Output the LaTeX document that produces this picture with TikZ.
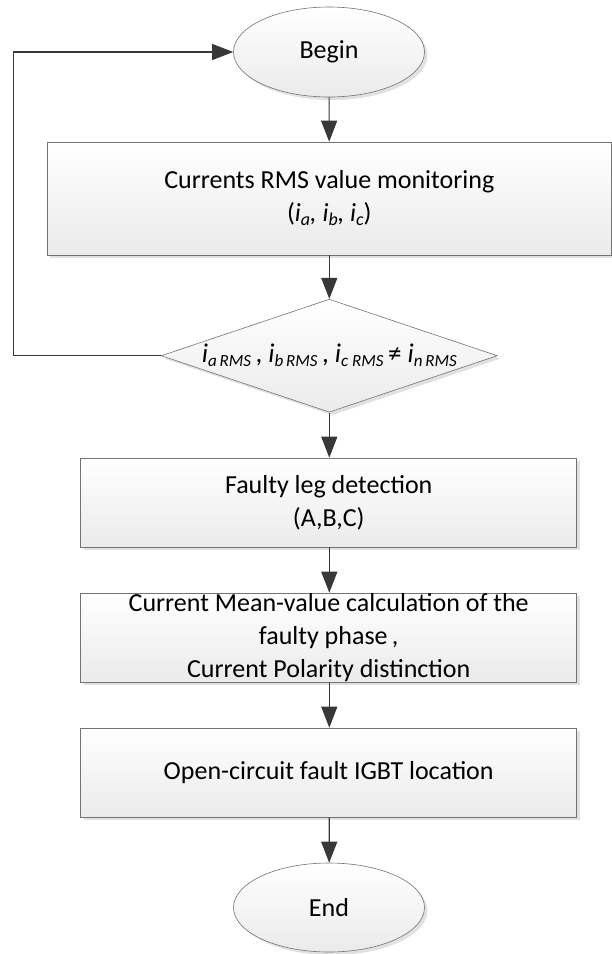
\documentclass[tikz,border=0pt]{standalone}
\usepackage{fontspec}
\setmainfont{Carlito}
\usetikzlibrary{shapes.geometric,shadows,arrows.meta}
\newcommand\subx[1]{\raisebox{-4pt}{\fontsize{17}{17}\selectfont\itshape #1}}
\newcommand\subb[1]{\raisebox{-4pt}{\fontsize{18}{18}\selectfont\itshape #1}}
\begin{document}
\begin{tikzpicture}[x=1pt,y=-1pt,
  base/.style={draw=gray!90!black, line width=0.6pt, top color=white, bottom color=gray!16,
     drop shadow={shadow xshift=3pt, shadow yshift=-3pt, fill=gray!30, opacity=0.8},
     font=\fontsize{26}{33}\selectfont, align=center, inner sep=0pt},
  term/.style={base, ellipse, minimum width=191pt, minimum height=90pt},
  proc/.style={base, rectangle, minimum width=496pt, minimum height=89pt},
  dec/.style={base, diamond, aspect=2.97, minimum width=336pt, minimum height=113pt},
  flow/.style={draw=black!78, line width=1.1pt, -{Triangle[length=21pt,width=16pt]}}
]
\useasboundingbox (0,0) rectangle (612,954);
\node[term] (begin) at (329,52) {Begin};
\node[proc, minimum width=564pt, minimum height=113pt] (mon) at (329.3,198.5)
  {Currents RMS value monitoring\\(\textit{i}\subb{a}\textit{,} \textit{i}\subb{b}\textit{,} \textit{i}\subb{c})};
\node[dec] (dia) at (329.3,355.7)
  {\fontsize{27}{27}\selectfont\textit{i}\subx{a\,RMS}\,, \textit{i}\subx{b\,RMS}\,, \textit{i}\subx{c RMS}\,≠ \textit{i}\subx{n\,RMS}};
\node[proc] (leg) at (328.7,502.5) {Faulty leg detection\\(A,B,C)};
\node[proc] (mean) at (328.7,637.5) {Current Mean-value calculation of the\\faulty phase\,,\\Current Polarity distinction};
\node[proc] (loc) at (328.7,772.5) {Open-circuit fault IGBT location};
\node[term, minimum height=89pt] (end) at (329,907.5) {End};
\coordinate (lp) at (13.5,355.7);
\draw[flow] (begin) -- (mon);
\draw[flow] (mon.south -| dia.north) -- (dia.north);
\draw[flow] (dia) -- (dia.south |- leg.north);
\draw[flow] (leg.south -| dia.north) -- (mean.north -| dia.north);
\draw[flow] (mean.south -| dia.north) -- (loc.north -| dia.north);
\draw[flow] (loc.south -| dia.north) -- (end);
\draw[flow] (dia.west) -- (lp) |- (begin.west);
\end{tikzpicture}
\end{document}
